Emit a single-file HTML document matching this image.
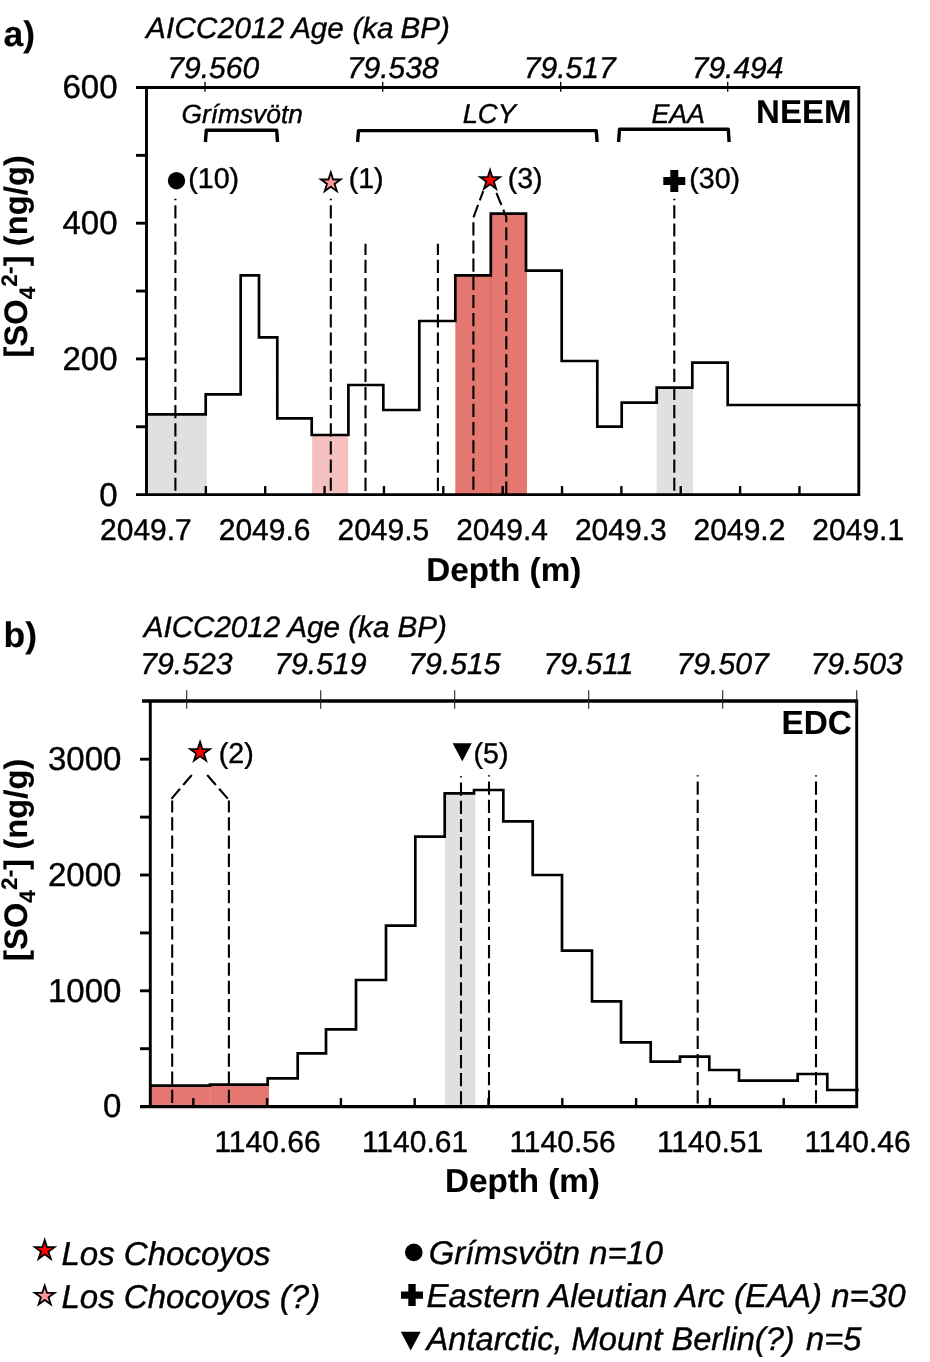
<!DOCTYPE html>
<html lang="en"><head><meta charset="utf-8"><title>Figure</title>
<style>
html,body{margin:0;padding:0;background:#fff;}
svg{display:block;will-change:transform;}
text{text-rendering:geometricPrecision;}
text{font-family:"Liberation Sans",Arial,Helvetica,sans-serif;fill:#000;}
.it{font-style:italic;}
text{stroke:#000;stroke-width:0.4px;}
.b{stroke-width:0.15px;}
.b{font-weight:bold;}
.ax{stroke:#000;stroke-width:2.9;fill:none;stroke-linecap:butt;}
.step{stroke:#000;stroke-width:2.7;fill:none;stroke-linejoin:miter;}
.tk{stroke:#000;stroke-width:2.4;fill:none;}
.tt{stroke:#000;stroke-width:1.3;fill:none;}
.tt2{stroke:#222;stroke-width:1.1;fill:none;}
.ds{stroke:#000;stroke-width:2.1;fill:none;stroke-dasharray:13.2 4.96;}
.br{stroke:#000;stroke-width:3.4;fill:none;stroke-linejoin:round;stroke-linecap:butt;}
.st{stroke:#000;stroke-width:1.8;stroke-linejoin:miter;}
</style></head><body>
<svg width="930" height="1362" viewBox="0 0 930 1362">
<rect width="930" height="1362" fill="#fff"/>

<g id="panelA">
<rect x="146.5" y="414.3" width="60.2" height="80.3" fill="#e0e0e0"/>
<rect x="312.1" y="435" width="36.1" height="59.6" fill="#f4c1c0"/>
<rect x="455.3" y="275.3" width="35.5" height="219.3" fill="#e57771"/>
<rect x="490.8" y="213.7" width="36.2" height="280.9" fill="#e57771"/>
<rect x="490.0" y="275.3" width="1.6" height="219.3" fill="#e0665f"/>
<rect x="656.7" y="387.7" width="36.3" height="106.9" fill="#e0e0e0"/>
<line class="ds" x1="175.4" y1="198.8" x2="175.4" y2="494.6" stroke-dashoffset="11.7"/>
<line class="ds" x1="330.8" y1="198.8" x2="330.8" y2="494.6" stroke-dashoffset="11.7"/>
<line class="ds" x1="365.5" y1="243.8" x2="365.5" y2="494.6" stroke-dashoffset="2.1"/>
<line class="ds" x1="437.9" y1="243.8" x2="437.9" y2="494.6" stroke-dashoffset="2.1"/>
<line class="ds" x1="674.3" y1="198.8" x2="674.3" y2="494.6" stroke-dashoffset="11.7"/>
<path class="ds" d="M483.2,191.2 L473.4,217.5 V494.6" stroke-dashoffset="3.5"/>
<path class="ds" d="M496.4,192.8 L506.3,217 V494.6"/>
<path class="step" d="M146.5,414.3L205.7,414.3L205.7,394.3L240.7,394.3L240.7,275.3L259,275.3L259,337.3L277.3,337.3L277.3,418.3L311.7,418.3L311.7,435L348.4,435L348.4,385L383.3,385L383.3,410L419.3,410L419.3,321L455.3,321L455.3,275.3L490.8,275.3L490.8,213.7L526,213.7L526,270.7L561.7,270.7L561.7,361L597.3,361L597.3,426.7L621.7,426.7L621.7,402.7L656.7,402.7L656.7,387.7L692.3,387.7L692.3,362.7L727.7,362.7L727.7,405L860.7,405"/>
<path class="ax" d="M136,87.5H860.25 M858.8,87.5V494.6 M136,494.6H860.25 M146.5,87.5V494.6"/>
<line class="ax" x1="136" y1="155.35" x2="146.5" y2="155.35"/>
<line class="ax" x1="136" y1="223.20" x2="146.5" y2="223.20"/>
<line class="ax" x1="136" y1="291.05" x2="146.5" y2="291.05"/>
<line class="ax" x1="136" y1="358.90" x2="146.5" y2="358.90"/>
<line class="ax" x1="136" y1="426.75" x2="146.5" y2="426.75"/>
<line class="tk" x1="205.86" y1="494.6" x2="205.86" y2="486.1"/>
<line class="tk" x1="265.22" y1="494.6" x2="265.22" y2="486.1"/>
<line class="tk" x1="324.58" y1="494.6" x2="324.58" y2="486.1"/>
<line class="tk" x1="383.94" y1="494.6" x2="383.94" y2="486.1"/>
<line class="tk" x1="443.30" y1="494.6" x2="443.30" y2="486.1"/>
<line class="tk" x1="502.66" y1="494.6" x2="502.66" y2="486.1"/>
<line class="tk" x1="562.02" y1="494.6" x2="562.02" y2="486.1"/>
<line class="tk" x1="621.38" y1="494.6" x2="621.38" y2="486.1"/>
<line class="tk" x1="680.74" y1="494.6" x2="680.74" y2="486.1"/>
<line class="tk" x1="740.10" y1="494.6" x2="740.10" y2="486.1"/>
<line class="tk" x1="799.46" y1="494.6" x2="799.46" y2="486.1"/>
<line class="tt" x1="205" y1="81.7" x2="205" y2="91.7"/>
<line class="tt" x1="382.7" y1="81.7" x2="382.7" y2="91.7"/>
<line class="tt" x1="560.7" y1="81.7" x2="560.7" y2="91.7"/>
<line class="tt" x1="727.7" y1="81.7" x2="727.7" y2="91.7"/>
<text x="117.5" y="98.40" font-size="33" text-anchor="end">600</text>
<text x="117.5" y="234.10" font-size="33" text-anchor="end">400</text>
<text x="117.5" y="369.80" font-size="33" text-anchor="end">200</text>
<text x="117.5" y="505.50" font-size="33" text-anchor="end">0</text>
<text x="145.90" y="540.3" font-size="30" text-anchor="middle">2049.7</text>
<text x="264.62" y="540.3" font-size="30" text-anchor="middle">2049.6</text>
<text x="383.34" y="540.3" font-size="30" text-anchor="middle">2049.5</text>
<text x="502.06" y="540.3" font-size="30" text-anchor="middle">2049.4</text>
<text x="620.78" y="540.3" font-size="30" text-anchor="middle">2049.3</text>
<text x="739.50" y="540.3" font-size="30" text-anchor="middle">2049.2</text>
<text x="858.22" y="540.3" font-size="30" text-anchor="middle">2049.1</text>
<text class="b" x="503.8" y="581.2" font-size="33.2" text-anchor="middle">Depth (m)</text>
<text class="it" x="213.2" y="78.3" font-size="30" text-anchor="middle">79.560</text>
<text class="it" x="392.8" y="78.3" font-size="30" text-anchor="middle">79.538</text>
<text class="it" x="569.7" y="78.3" font-size="30" text-anchor="middle">79.517</text>
<text class="it" x="737.6" y="78.3" font-size="30" text-anchor="middle">79.494</text>
<text class="it" y="37.7" font-size="29.5"><tspan x="146" letter-spacing="0.3">AICC2012</tspan> <tspan x="291.2">Age</tspan> <tspan x="352.5">(ka</tspan> <tspan x="400.6">BP)</tspan></text>
<text class="b" x="3.4" y="45.8" font-size="35.5">a)</text>
<text class="b" x="851.4" y="122.6" font-size="33" text-anchor="end">NEEM</text>
<path class="br" d="M205.4,142L206.3,130.3H276.7L277.5,142"/>
<path class="br" d="M357.6,142L358.5,130.6H596.3L597.1,142"/>
<path class="br" d="M618.6,142L619.5,129.3H728.3L729.1,142"/>
<text class="it" x="242.2" y="122.7" font-size="26.3" text-anchor="middle">Grímsvötn</text>
<text class="it" x="489.3" y="122.8" font-size="27.4" text-anchor="middle">LCY</text>
<text class="it" x="678.2" y="122.8" font-size="26.8" text-anchor="middle">EAA</text>
<circle cx="176.5" cy="180.7" r="8.7" fill="#000"/>
<polygon class="st" points="330.80,172.30 333.14,179.49 340.69,179.49 334.58,183.93 336.91,191.11 330.80,186.67 324.69,191.11 327.02,183.93 320.91,179.49 328.46,179.49" fill="#f99"/>
<polygon class="st" points="490.05,170.00 492.39,177.19 499.94,177.19 493.83,181.63 496.16,188.81 490.05,184.37 483.94,188.81 486.27,181.63 480.16,177.19 487.71,177.19" fill="#f00"/>
<path d="M670.3,170.0h8v7.0h7.0v8h-7.0v7.0h-8v-7.0h-7.0v-8h7.0z" fill="#000"/>
<text x="188.3" y="188.3" font-size="28.6">(10)</text>
<text x="348.7" y="188.3" font-size="28.6">(1)</text>
<text x="507.7" y="188.3" font-size="28.6">(3)</text>
<text x="689.3" y="188.3" font-size="28.6">(30)</text>
<text class="b" transform="translate(27.3,256.3) rotate(-90)" font-size="32.5" letter-spacing="0.14" text-anchor="middle">[SO<tspan font-size="22.5" dy="7.5">4</tspan><tspan font-size="22.5" dy="-17.5">2-</tspan><tspan dy="10">] (ng/g)</tspan></text>
</g>
<g id="panelB">
<rect x="150.3" y="1085.7" width="118.7" height="20.9" fill="#e57771"/>
<rect x="209.5" y="1085.7" width="1" height="20.9" fill="#ea8585"/>
<rect x="445" y="793.4" width="30.5" height="313.2" fill="#e0e0e0"/>
<path class="ds" d="M191.8,775 L170.8,799.5" stroke-dasharray="13.7 4.9"/><path class="ds" d="M172.2,800.5 V1106.6" stroke-dashoffset="1.3"/>
<path class="ds" d="M207.2,775 L228.5,799.5" stroke-dasharray="13.7 4.9"/><path class="ds" d="M228.9,800.5 V1106.6" stroke-dashoffset="1.3"/>
<line class="ds" x1="461" y1="776.3" x2="461" y2="1106.6" stroke-dashoffset="11.9"/>
<line class="ds" x1="489" y1="775.3" x2="489" y2="1106.6" stroke-dashoffset="11.9"/>
<line class="ds" x1="697.7" y1="775.3" x2="697.7" y2="1106.6" stroke-dashoffset="11.9"/>
<line class="ds" x1="816" y1="775.3" x2="816" y2="1106.6" stroke-dashoffset="11.9"/>
<path class="step" d="M150.3,1085.7L210,1085.7L210,1084.7L267.7,1084.7L267.7,1078.4L297.7,1078.4L297.7,1053.4L326,1053.4L326,1029.4L356,1029.4L356,980.0L386,980.0L386,925.7L415.3,925.7L415.3,836.7L444.7,836.7L444.7,793.4L474,793.4L474,790.0L503.3,790.0L503.3,821.4L532.7,821.4L532.7,875.0L562,875.0L562,950.7L592,950.7L592,1001.4L621,1001.4L621,1042.4L650.7,1042.4L650.7,1061.7L680,1061.7L680,1056.7L709.3,1056.7L709.3,1070.0L739,1070.0L739,1080.7L797.7,1080.7L797.7,1074.0L827.3,1074.0L827.3,1090.0L858.7,1090.0"/>
<path class="ax" d="M856.7,701.3V1106.6 M150.3,701.3V1106.6"/><line x1="142" y1="701" x2="858.15" y2="701" stroke="#000" stroke-width="3.7"/><line x1="140" y1="1106.6" x2="858.15" y2="1106.6" stroke="#000" stroke-width="3.3"/>
<line class="ax" x1="140" y1="759.20" x2="150.3" y2="759.20"/>
<line class="ax" x1="140" y1="817.10" x2="150.3" y2="817.10"/>
<line class="ax" x1="140" y1="875.00" x2="150.3" y2="875.00"/>
<line class="ax" x1="140" y1="932.90" x2="150.3" y2="932.90"/>
<line class="ax" x1="140" y1="990.80" x2="150.3" y2="990.80"/>
<line class="ax" x1="140" y1="1048.70" x2="150.3" y2="1048.70"/>
<line class="tk" x1="193.30" y1="1106.6" x2="193.30" y2="1098.1"/>
<line class="tk" x1="267.10" y1="1106.6" x2="267.10" y2="1098.1"/>
<line class="tk" x1="340.90" y1="1106.6" x2="340.90" y2="1098.1"/>
<line class="tk" x1="414.70" y1="1106.6" x2="414.70" y2="1098.1"/>
<line class="tk" x1="488.50" y1="1106.6" x2="488.50" y2="1098.1"/>
<line class="tk" x1="562.30" y1="1106.6" x2="562.30" y2="1098.1"/>
<line class="tk" x1="636.10" y1="1106.6" x2="636.10" y2="1098.1"/>
<line class="tk" x1="709.90" y1="1106.6" x2="709.90" y2="1098.1"/>
<line class="tk" x1="783.70" y1="1106.6" x2="783.70" y2="1098.1"/>
<line class="tt2" x1="186.70" y1="690.3" x2="186.70" y2="708.8"/>
<line class="tt2" x1="320.70" y1="690.3" x2="320.70" y2="708.8"/>
<line class="tt2" x1="454.70" y1="690.3" x2="454.70" y2="708.8"/>
<line class="tt2" x1="588.70" y1="690.3" x2="588.70" y2="708.8"/>
<line class="tt2" x1="722.70" y1="690.3" x2="722.70" y2="708.8"/>
<line class="tt2" x1="856.70" y1="690.3" x2="856.70" y2="708.8"/>
<text x="121.4" y="770.00" font-size="33" text-anchor="end">3000</text>
<text x="121.4" y="885.80" font-size="33" text-anchor="end">2000</text>
<text x="121.4" y="1001.60" font-size="33" text-anchor="end">1000</text>
<text x="121.4" y="1117.40" font-size="33" text-anchor="end">0</text>
<text x="267.50" y="1151.5" font-size="30" text-anchor="middle">1140.66</text>
<text x="415.00" y="1151.5" font-size="30" text-anchor="middle">1140.61</text>
<text x="562.50" y="1151.5" font-size="30" text-anchor="middle">1140.56</text>
<text x="710.00" y="1151.5" font-size="30" text-anchor="middle">1140.51</text>
<text x="857.50" y="1151.5" font-size="30" text-anchor="middle">1140.46</text>
<text class="b" x="522.5" y="1191.7" font-size="33.2" text-anchor="middle">Depth (m)</text>
<text class="it" x="186.40" y="674" font-size="30.2" text-anchor="middle">79.523</text>
<text class="it" x="320.45" y="674" font-size="30.2" text-anchor="middle">79.519</text>
<text class="it" x="454.50" y="674" font-size="30.2" text-anchor="middle">79.515</text>
<text class="it" x="588.55" y="674" font-size="30.2" text-anchor="middle">79.511</text>
<text class="it" x="722.60" y="674" font-size="30.2" text-anchor="middle">79.507</text>
<text class="it" x="856.65" y="674" font-size="30.2" text-anchor="middle">79.503</text>
<text class="it" x="143.7" y="636.7" font-size="29.6">AICC2012 Age (ka BP)</text>
<text class="b" x="3.6" y="646.5" font-size="35.5">b)</text>
<text class="b" x="851.8" y="734" font-size="33.3" text-anchor="end">EDC</text>
<polygon class="st" points="200.05,741.90 202.39,749.09 209.94,749.09 203.83,753.53 206.16,760.71 200.05,756.27 193.94,760.71 196.27,753.53 190.16,749.09 197.71,749.09" fill="#f00"/>
<polygon points="452.6,743.2 471.8,743.2 462.3,761.2" fill="#000"/>
<text x="218.8" y="762.8" font-size="28.6">(2)</text>
<text x="473.6" y="762.8" font-size="28.6">(5)</text>
<text class="b" transform="translate(27.3,859.7) rotate(-90)" font-size="32.5" letter-spacing="0.14" text-anchor="middle">[SO<tspan font-size="22.5" dy="7.5">4</tspan><tspan font-size="22.5" dy="-17.5">2-</tspan><tspan dy="10">] (ng/g)</tspan></text>
</g>
<g id="legend">
<polygon class="st" points="44.70,1240.00 47.04,1247.19 54.59,1247.19 48.48,1251.63 50.81,1258.81 44.70,1254.37 38.59,1258.81 40.92,1251.63 34.81,1247.19 42.36,1247.19" fill="#f00"/>
<polygon class="st" points="44.70,1285.60 47.04,1292.79 54.59,1292.79 48.48,1297.23 50.81,1304.41 44.70,1299.97 38.59,1304.41 40.92,1297.23 34.81,1292.79 42.36,1292.79" fill="#f99"/>
<text class="it" x="61.5" y="1264.9" font-size="33">Los Chocoyos</text>
<text class="it" x="61.5" y="1307.9" font-size="33">Los Chocoyos (?)</text>
<circle cx="413.8" cy="1252.4" r="8.8" fill="#000"/>
<path d="M408.3,1284.1h7.4v7.3h7.3v7.4h-7.3v7.3h-7.4v-7.3h-7.3v-7.4h7.3z" fill="#000"/>
<polygon points="400.8,1331.8 420.7,1331.8 410.7,1350.4" fill="#000"/>
<text class="it" x="428.8" y="1264" font-size="32.8">Grímsvötn n=10</text>
<text class="it" x="426.5" y="1307" font-size="33">Eastern Aleutian Arc (EAA) n=30</text>
<text class="it" x="426.5" y="1350.4" font-size="32.65">Antarctic, Mount Berlin(?)<tspan dx="2.3"> n=5</tspan></text>
</g>
</svg></body></html>
